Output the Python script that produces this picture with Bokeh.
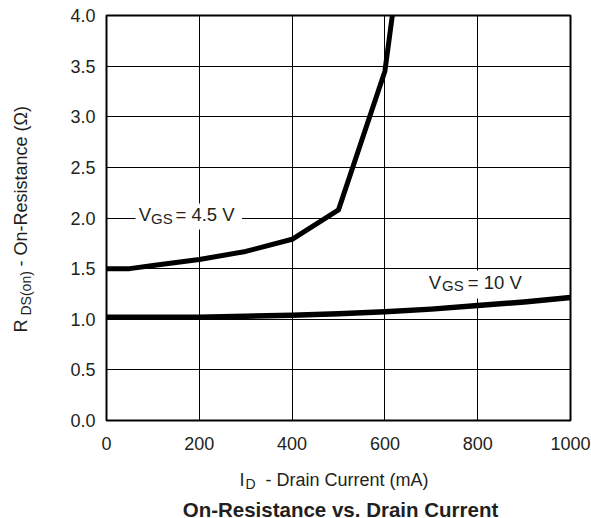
import math
from bokeh.plotting import figure
from bokeh.layouts import row, column
from bokeh.models import FixedTicker, PrintfTickFormatter, Label, Range1d
from bokeh.embed import file_html
from bokeh.resources import INLINE

# ---- data ----
id_45 = [0, 50, 100, 200, 300, 400, 500, 600, 616]
r_45 = [1.50, 1.50, 1.53, 1.59, 1.67, 1.79, 2.08, 3.45, 4.0]
id_10 = [0, 100, 200, 300, 400, 500, 600, 700, 800, 900, 1000]
r_10 = [1.02, 1.02, 1.02, 1.03, 1.04, 1.055, 1.075, 1.10, 1.135, 1.17, 1.215]
x_ticks = [0, 200, 400, 600, 800, 1000]
y_ticks = [0.0, 0.5, 1.0, 1.5, 2.0, 2.5, 3.0, 3.5, 4.0]

FONT = "Liberation Sans"
TXT = "#231f20"
W, H = 591, 518          # whole picture
LW = 45                  # left strip (y-axis title)
MH = 460                 # height of main chart figure
L, T, FW, FH = 106, 15, 464, 405   # frame in picture pixels

# ---------------- main chart ----------------
p = figure(width=W - LW, height=MH, output_backend="svg", toolbar_location=None,
           x_range=Range1d(0, 1000), y_range=Range1d(0, 4),
           min_border_left=L - LW, min_border_top=T, min_border_right=W - L - FW,
           min_border_bottom=MH - T - FH)

p.outline_line_color = "black"
p.outline_line_width = 2
p.background_fill_color = "white"
p.border_fill_color = "white"

for ax in (p.xaxis[0], p.yaxis[0]):
    ax.axis_line_color = None
    ax.major_tick_line_color = None
    ax.minor_tick_line_color = None
    ax.major_tick_out = 0
    ax.major_tick_in = 0
    ax.minor_tick_out = 0
    ax.minor_tick_in = 0
    ax.major_label_text_font = FONT
    ax.major_label_text_font_size = "18px"
    ax.major_label_text_color = TXT

p.xaxis[0].ticker = FixedTicker(ticks=x_ticks)
p.yaxis[0].ticker = FixedTicker(ticks=y_ticks)
p.yaxis[0].formatter = PrintfTickFormatter(format="%.1f")
p.xaxis[0].major_label_standoff = 16
p.yaxis[0].major_label_standoff = 11

p.xgrid[0].ticker = FixedTicker(ticks=x_ticks)
p.ygrid[0].ticker = FixedTicker(ticks=y_ticks)
for g in (p.xgrid[0], p.ygrid[0]):
    g.grid_line_color = "black"
    g.grid_line_width = 1
    g.grid_line_alpha = 1.0

p.line(id_45, r_45, line_color="black", line_width=5, line_join="round")
p.line(id_10, r_10, line_color="black", line_width=5.5, line_join="round")


def _label(fig, x, y, xu, yu, text, size, bold, angle, align, color, **kw):
    fig.add_layout(Label(x=x, y=y, x_units=xu, y_units=yu,
                         text=text, text_font=FONT, text_font_size=size,
                         text_color=color, text_font_style="bold" if bold else "normal",
                         angle=angle, text_align=align, text_baseline="alphabetic", **kw))


def lab_in(px, py, text, size="18px", bold=False, angle=0.0, align="left", color=TXT, **kw):
    # picture pixel position inside the chart frame -> data units
    x = (px - L) / FW * 1000
    y = (T + FH - py) / FH * 4
    _label(p, x, y, "data", "data", text, size, bold, angle, align, color, **kw)


# curve labels with white boxes
lab_in(135, 216, "VGS = 4.5 V", size="18px", color="white",
       background_fill_color="white", padding=3)
lab_in(138.3, 214.3, "V", size="18.5px")
lab_in(150.5, 218.3, "GS", size="15px")
lab_in(175, 214.3, "= 4.5 V", size="18.5px")

lab_in(423, 284, "VGS = 10 V", size="18px", color="white",
       background_fill_color="white", padding=4)
lab_in(428.3, 282.3, "V", size="18.5px")
lab_in(441.5, 285, "GS", size="15px")
lab_in(467.3, 282.3, "= 10 V", size="18.5px")


def strip(width, height):
    f = figure(width=width, height=height, output_backend="svg", toolbar_location=None,
               x_axis_type=None, y_axis_type=None,
               x_range=Range1d(0, 1), y_range=Range1d(0, 1),
               min_border_left=0, min_border_right=0, min_border_top=0, min_border_bottom=0)
    f.outline_line_color = None
    f.background_fill_color = "white"
    f.border_fill_color = "white"
    return f


# ---------------- left strip: y-axis title ----------------
# its frame is aligned with the chart frame (bottom at picture y = T + FH)
pl = strip(LW, MH)


def lab_left(px, py, text, size="18px", angle=math.pi / 2):
    _label(pl, px, (T + FH) - py, "screen", "screen", text, size, False, angle, "left", TXT)


lab_left(20, 332, "R")
lab_left(25, 315, "DS(on)", size="14px")
lab_left(20, 266, "- On-Resistance (\u03a9)")

# ---------------- bottom strip: x-axis title and chart title ----------------
BH = H - MH
pb = strip(W, BH)


def lab_bottom(px, py, text, size="18px", bold=False, align="left"):
    _label(pb, px, H - py, "screen", "screen", text, size, bold, 0.0, align, TXT)


lab_bottom(239, 479, "I")
lab_bottom(245, 483, "D", size="14px")
lab_bottom(265, 479, "- Drain Current (mA)")
lab_bottom(340, 508.5, "On-Resistance vs. Drain Current", size="20.5px", bold=True, align="center")

layout = column(row(pl, p, spacing=0), pb, spacing=0)

open("out.html", "w").write(file_html(layout, INLINE))
